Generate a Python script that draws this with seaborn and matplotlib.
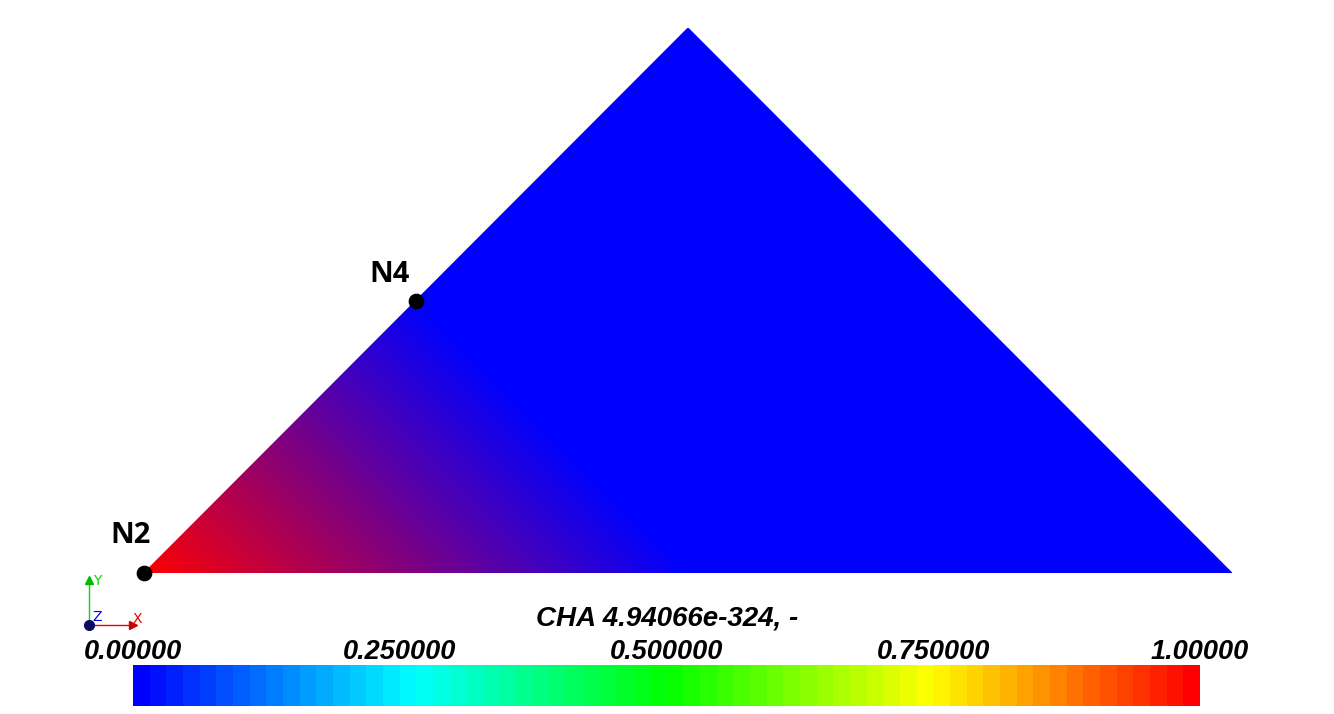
import numpy as np
import seaborn as sns
import matplotlib.pyplot as plt
import matplotlib.tri as mtri
from matplotlib.colors import LinearSegmentedColormap, Normalize
from matplotlib.cm import ScalarMappable

plt.switch_backend('Agg')

# quadratic triangle element: corner + mid-side nodes
node_x = [0.0, 1.0, 2.0, 1.5, 1.0, 0.5]
node_y = [0.0, 0.0, 0.0, 0.5, 1.0, 0.5]
node_val = [1.0, 0.0, 0.0, 0.0, 0.0, 0.0]
sub_tris = [[0, 1, 5], [1, 2, 3], [3, 4, 5], [1, 3, 5]]
labelled_nodes = {"N2": 0, "N4": 5}

bar_ticks = [0.0, 0.25, 0.5, 0.75, 1.0]
bar_labels = ["0.00000", "0.250000", "0.500000", "0.750000", "1.00000"]
bar_title = "CHA 4.94066e-324, -"

sns.set_style("white")
plt.rcParams["text.color"] = "black"

W, H = 1334, 714
fig = plt.figure(figsize=(W / 100, H / 100), dpi=100)
fig.patch.set_facecolor("white")

# main view: model coords mapped onto pixel box
ax = fig.add_axes([144 / W, (H - 573) / H, 1088 / W, 545 / H])
tri = mtri.Triangulation(node_x, node_y, sub_tris)
field_cmap = LinearSegmentedColormap.from_list("br", ["#0000ff", "#ff0000"])
ax.tripcolor(tri, node_val, shading="gouraud", cmap=field_cmap, vmin=0, vmax=1)
ax.set_xlim(0, 2)
ax.set_ylim(0, 1)
ax.set_axis_off()

pts_x = [node_x[i] for i in labelled_nodes.values()]
pts_y = [node_y[i] for i in labelled_nodes.values()]
sns.scatterplot(x=pts_x, y=pts_y, ax=ax, color="black", s=110,
                edgecolor="black", zorder=5, clip_on=False, legend=False)
offsets = {"N2": (-10, 27), "N4": (-19, 19)}
for name, i in labelled_nodes.items():
    ax.annotate(name, (node_x[i], node_y[i]), xytext=offsets[name],
                textcoords="offset points", ha="center", va="center",
                fontsize=21, fontweight="bold", family="Open Sans",
                color="black", annotation_clip=False)

# colour bar
band_cmap = LinearSegmentedColormap.from_list(
    "bcgyr", [(0, "#0000ff"), (0.26, "#00ffff"), (0.5, "#00ff00"),
              (0.75, "#ffff00"), (1, "#ff0000")], N=64)
cax = fig.add_axes([133 / W, (H - 706) / H, 1067 / W, 41 / H])
cb = fig.colorbar(ScalarMappable(Normalize(0, 1), band_cmap), cax=cax,
                  orientation="horizontal")
cb.outline.set_visible(False)
cb.set_ticks(bar_ticks)
cb.set_ticklabels(bar_labels)
cax.xaxis.set_ticks_position("top")
cax.tick_params(length=0, pad=0)
for t in cax.get_xticklabels():
    t.set_family("Liberation Sans")
    t.set_fontsize(19.5)
    t.set_fontweight("bold")
    t.set_style("italic")
    t.set_color("black")

fig.text(0.5, 1 - 618 / H, bar_title, ha="center", va="center", color="black",
         family="Liberation Sans", fontsize=20, fontweight="bold", style="italic")

# axis triad
ox, oy = 89 / W, 1 - 625 / H
fig.add_artist(plt.Line2D([ox, ox], [oy, 1 - 578 / H], color="#00dd00", lw=1))
fig.add_artist(plt.Line2D([ox, 134 / W], [oy, oy], color="#ee0000", lw=1))
fig.add_artist(plt.Line2D([ox], [oy], marker="o", ms=7, color="#0a0a60"))
fig.add_artist(plt.Line2D([ox], [1 - 580 / H], marker="^", ms=6, color="#00bb00"))
fig.add_artist(plt.Line2D([133 / W], [oy], marker=">", ms=6, color="#cc0000"))
fig.text(97 / W, 1 - 581 / H, "Y", color="#00dd00", fontsize=10, ha="center", va="center")
fig.text(137 / W, 1 - 619 / H, "X", color="#ee0000", fontsize=10, ha="center", va="center")
fig.text(97 / W, 1 - 617 / H, "Z", color="#0000ff", fontsize=10, ha="center", va="center")

fig.savefig("out.png", dpi=100, facecolor="white")
